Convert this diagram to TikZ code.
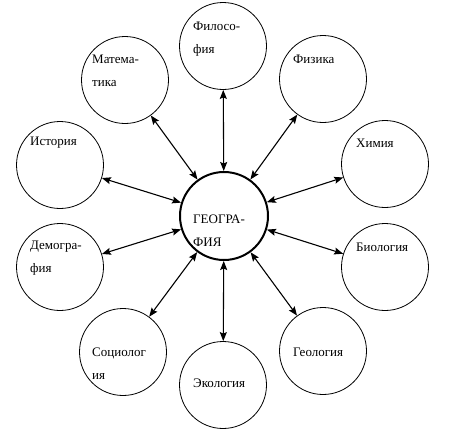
\documentclass[tikz,border=0pt]{standalone}
\usepackage{fontspec}
\setmainfont{Liberation Serif}
\usetikzlibrary{arrows.meta}
\begin{document}
\begin{tikzpicture}[x=1pt,y=-1pt,
  outer/.style={circle,draw,line width=0.8pt,minimum size=87pt,inner sep=0pt},
  hub/.style={circle,draw,line width=2pt,minimum size=88pt,inner sep=0pt},
  lbl/.style={anchor=west,inner sep=0pt,align=left,font=\fontsize{13pt}{23pt}\selectfont},
  link/.style={line width=1.1pt,{Stealth[length=9pt,width=7pt,inset=1.5pt]}-{Stealth[length=9pt,width=7pt,inset=1.5pt]}}]
\useasboundingbox (0,0) rectangle (450,434);
\node[hub] (geo) at (224,216) {};
\node[outer] (fil) at (223,46) {};
\node[outer] (fiz) at (323,79) {};
\node[outer] (him) at (385,164) {};
\node[outer] (bio) at (385,267) {};
\node[outer] (gel) at (323,351) {};
\node[outer] (eko) at (223,385) {};
\node[outer] (soc) at (123,352) {};
\node[outer] (dem) at (60,267) {};
\node[outer] (ist) at (60,165) {};
\node[outer] (mat) at (125,80) {};
\node[lbl] (tgeo) at (193,230.5) {ГЕОГРА-\\ФИЯ};
\node[lbl] (tfil) at (193,39) {Филосо-\\фия};
\node[lbl] (tfiz) at (293,59) {Физика};
\node[lbl] (thim) at (356,143) {Химия};
\node[lbl] (tbio) at (356,247) {Биология};
\node[lbl] (tgel) at (293,352) {Геология};
\node[lbl] (teko) at (193,383) {Экология};
\node[lbl] (tsoc) at (92,363.5) {Социолог\\ия};
\node[lbl] (tdem) at (30,258.5) {Демогра-\\фия};
\node[lbl] (tist) at (30,143) {История};
\node[lbl] (tmat) at (92,70.5) {Матема-\\тика};
\foreach \n in {fil,fiz,him,bio,gel,eko,soc,dem,ist,mat}
  \draw[link] (geo) -- (\n);
\end{tikzpicture}
\end{document}
